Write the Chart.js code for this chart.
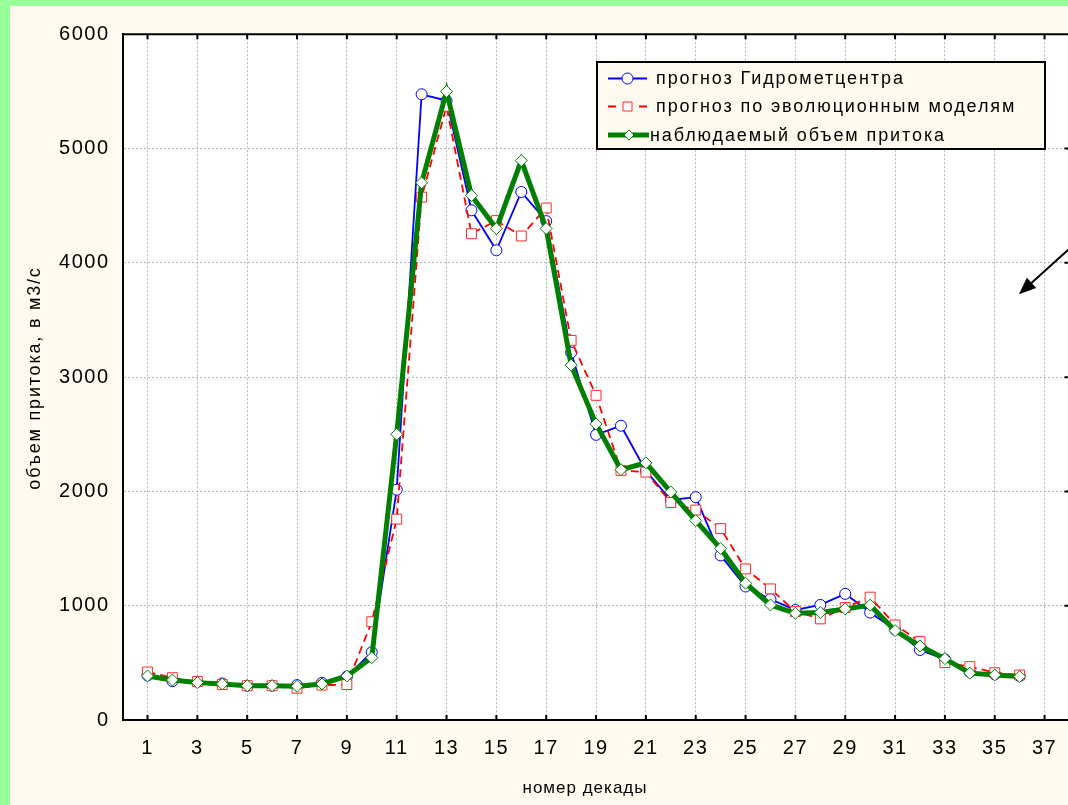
<!DOCTYPE html>
<html>
<head>
<meta charset="utf-8">
<script src="https://cdn.jsdelivr.net/npm/chart.js@4.4.0/dist/chart.umd.min.js"></script>
<style>
    html, body { margin: 0; padding: 0; overflow: hidden; background: #99ff99; }
    #wrap { position: absolute; left: 10px; top: 6px; width: 1070px; height: 799px; background: #fffaf0; }
</style>
</head>
<body>
<div id="wrap"><canvas id="inflow-canvas" width="1070" height="799"></canvas></div>
<script>
// data
const decades = [1, 2, 3, 4, 5, 6, 7, 8, 9, 10, 11, 12, 13, 14, 15, 16, 17, 18,
    19, 20, 21, 22, 23, 24, 25, 26, 27, 28, 29, 30, 31, 32, 33, 34, 35, 36];
const forecast_hydromet = [390, 340, 335, 320, 300, 300, 305, 325, 380, 593, 2015, 5475, 5420, 4460, 4110, 4620, 4365, 3215,
    2495, 2575, 2180, 1925, 1950, 1440, 1168, 1057, 963, 1007, 1104, 940, 790, 613, 530, 420, 400, 385];
const forecast_evolution = [420, 370, 336, 310, 300, 300, 278, 305, 310, 860, 1758, 4575, 5370, 4255, 4370, 4235, 4480, 3322,
    2841, 2184, 2169, 1903, 1837, 1675, 1322, 1147, 949, 885, 984, 1075, 832, 686, 502, 467, 414, 394];
const observed_inflow = [385, 350, 327, 315, 300, 300, 295, 315, 385, 545, 2500, 4700, 5500, 4590, 4300, 4895, 4300, 3105,
    2590, 2190, 2250, 1995, 1745, 1500, 1197, 1007, 934, 940, 972, 1005, 782, 648, 537, 410, 394, 380];
const series_labels = ['прогноз Гидрометцентра', 'прогноз по эволюционным моделям', 'наблюдаемый объем притока'];
const x_title = 'номер декады';
const y_title = 'объем притока, в м3/с';

const font_family = '"Liberation Sans", Arial, sans-serif';

function toPoints(values) {
    return decades.map((d, i) => ({ x: d, y: values[i] }));
}

// white plot area + spaced text like the original
const backgroundPlugin = {
    id: 'backgroundPlugin',
    beforeDraw: (chart) => {
        const { ctx, chartArea } = chart;
        ctx.letterSpacing = '1.5px';
        ctx.save();
        ctx.fillStyle = '#ffffff';
        ctx.fillRect(chartArea.left, chartArea.top, chartArea.right - chartArea.left, chartArea.bottom - chartArea.top);
        ctx.restore();
    }
};

// axis titles (the x one is not centred on the plot in the original)
const titlesPlugin = {
    id: 'titlesPlugin',
    afterDraw: (chart) => {
        const ctx = chart.ctx;
        ctx.save();
        ctx.fillStyle = '#000';
        ctx.textAlign = 'center';
        ctx.textBaseline = 'middle';
        ctx.font = '17px ' + font_family;
        ctx.letterSpacing = '1px';
        ctx.fillText(x_title, 575, 782);
        ctx.font = '18px ' + font_family;
        ctx.letterSpacing = '1.8px';
        ctx.translate(25, 372);
        ctx.rotate(-Math.PI / 2);
        ctx.fillText(y_title, 0, 0);
        ctx.restore();
    }
};

// top/right frame and inward tick marks
const framePlugin = {
    id: 'framePlugin',
    afterDraw: (chart) => {
        const { ctx, chartArea } = chart;
        const xs = chart.scales.x;
        const ys = chart.scales.y;
        ctx.save();
        ctx.strokeStyle = '#000';
        ctx.lineWidth = 2;
        ctx.beginPath();
        ctx.moveTo(chartArea.left, chartArea.top);
        ctx.lineTo(chartArea.right, chartArea.top);
        ctx.lineTo(chartArea.right, chartArea.bottom);
        for (let v = 1; v < 38; v += 2) {
            const px = xs.getPixelForValue(v);
            ctx.moveTo(px, chartArea.bottom);
            ctx.lineTo(px, chartArea.bottom - 5);
            ctx.moveTo(px, chartArea.top);
            ctx.lineTo(px, chartArea.top + 5);
        }
        for (let v = 1000; v < 6000; v += 1000) {
            const py = ys.getPixelForValue(v);
            ctx.moveTo(chartArea.right, py);
            ctx.lineTo(chartArea.right - 5, py);
        }
        ctx.stroke();

        // arrow pointing in from the right edge
        const tipX = xs.getPixelForValue(35.97);
        const tipY = ys.getPixelForValue(3725);
        const dx = 0.742, dy = -0.671;
        ctx.lineWidth = 2;
        ctx.beginPath();
        ctx.moveTo(tipX + 12 * dx, tipY + 12 * dy);
        ctx.lineTo(tipX + 90 * dx, tipY + 90 * dy);
        ctx.stroke();
        const bx = tipX + 17 * dx, by = tipY + 17 * dy;
        ctx.fillStyle = '#000';
        ctx.beginPath();
        ctx.moveTo(tipX, tipY);
        ctx.lineTo(bx + 7 * -dy, by + 7 * dx);
        ctx.lineTo(bx - 7 * -dy, by - 7 * dx);
        ctx.closePath();
        ctx.fill();
        ctx.restore();
    }
};

// legend box drawn inside the plot
const legendPlugin = {
    id: 'legendPlugin',
    afterDraw: (chart) => {
        const ctx = chart.ctx;
        const box = { left: 587, top: 56, right: 1035, bottom: 143 };
        const rows = [72.5, 100.5, 129];
        const textX = [646, 646, 640];
        ctx.save();
        ctx.fillStyle = '#fffaf0';
        ctx.fillRect(box.left, box.top, box.right - box.left, box.bottom - box.top);
        ctx.strokeStyle = '#000';
        ctx.lineWidth = 2;
        ctx.strokeRect(box.left, box.top, box.right - box.left, box.bottom - box.top);

        chart.data.datasets.forEach((ds, i) => {
            const y = rows[i];
            ctx.strokeStyle = ds.borderColor;
            ctx.lineWidth = ds.borderWidth;
            ctx.beginPath();
            if (i === 1) {
                ctx.moveTo(598, y); ctx.lineTo(606, y);
                ctx.moveTo(629, y); ctx.lineTo(637, y);
            } else {
                ctx.moveTo(598, y); ctx.lineTo(i === 2 ? 639 : 637, y);
            }
            ctx.stroke();
            const mx = i === 2 ? 619 : 617.5;
            ctx.fillStyle = ds.pointBackgroundColor;
            ctx.strokeStyle = ds.pointBorderColor;
            ctx.lineWidth = 1;
            ctx.beginPath();
            if (ds.pointStyle === 'circle') {
                ctx.arc(mx, y, ds.pointRadius, 0, Math.PI * 2);
            } else if (ds.pointStyle === 'rect') {
                ctx.rect(mx - 4.5, y - 4.5, 9, 9);
            } else {
                ctx.moveTo(mx - 5, y); ctx.lineTo(mx, y - 5);
                ctx.lineTo(mx + 5, y); ctx.lineTo(mx, y + 5);
                ctx.closePath();
            }
            ctx.fill();
            ctx.stroke();

            ctx.letterSpacing = '1.9px';
            ctx.fillStyle = '#000';
            ctx.font = '18px ' + font_family;
            ctx.textBaseline = 'middle';
            ctx.textAlign = 'left';
            ctx.fillText(series_labels[i], textX[i], y + 1);
        });
        ctx.restore();
    }
};

const ctx = document.getElementById('inflow-canvas').getContext('2d');

const inflow_chart = new Chart(ctx, {
    type: 'line',
    data: {
        datasets: [
            {
                label: series_labels[0],
                data: toPoints(forecast_hydromet),
                borderColor: '#0000ff',
                borderWidth: 1.8,
                pointStyle: 'circle',
                pointRadius: 5.5,
                pointBorderWidth: 1,
                pointBorderColor: '#0000ff',
                pointBackgroundColor: '#ffffff',
                tension: 0,
                order: 3
            }, {
                label: series_labels[1],
                data: toPoints(forecast_evolution),
                borderColor: '#ff0000',
                borderWidth: 1.8,
                borderDash: [8, 5],
                pointStyle: 'rect',
                pointRadius: 7,
                pointBorderWidth: 1,
                pointBorderColor: '#ff2a2a',
                pointBackgroundColor: '#ffffff',
                tension: 0,
                order: 2
            }, {
                label: series_labels[2],
                data: toPoints(observed_inflow),
                borderColor: '#008000',
                borderWidth: 5,
                pointStyle: 'rectRot',
                pointRadius: 6,
                pointBorderWidth: 1,
                pointBorderColor: '#008000',
                pointBackgroundColor: '#ffffff',
                tension: 0,
                order: 1
            }
        ]
    },
    options: {
        responsive: false,
        animation: false,
        devicePixelRatio: 1,
        layout: { padding: { top: 28.3, right: 10.5, left: 0, bottom: 0 } },
        plugins: {
            legend: { display: false },
            tooltip: { enabled: false }
        },
        scales: {
            x: {
                type: 'linear',
                min: 0,
                max: 38,
                afterFit: (scale) => {
                    scale.height = 85;
                    scale.paddingLeft = 0;
                    scale.paddingRight = 0;
                },
                ticks: {
                    stepSize: 1,
                    autoSkip: false,
                    maxRotation: 0,
                    padding: 16.5,
                    color: '#000',
                    font: { family: font_family, size: 20 },
                    callback: (v) => (v % 2 === 1 ? String(v) : '')
                },
                grid: {
                    drawTicks: false,
                    lineWidth: 1,
                    color: (c) => (c.tick && c.tick.value % 2 === 1 ? '#b4b4b4' : 'rgba(0,0,0,0)')
                },
                border: { display: true, color: '#000', width: 2, dash: [2, 2] }
            },
            y: {
                min: 0,
                max: 6000,
                afterFit: (scale) => {
                    scale.width = 112.6;
                    scale.paddingTop = 0;
                    scale.paddingBottom = 0;
                },
                ticks: {
                    stepSize: 1000,
                    padding: 13,
                    color: '#000',
                    font: { family: font_family, size: 20 },
                    callback: (v) => String(v)
                },
                grid: {
                    drawTicks: false,
                    lineWidth: 1,
                    color: (c) => (c.tick && c.tick.value > 0 && c.tick.value < 6000 ? '#b4b4b4' : 'rgba(0,0,0,0)')
                },
                border: { display: true, color: '#000', width: 2, dash: [2, 2] }
            }
        }
    },
    plugins: [backgroundPlugin, framePlugin, legendPlugin, titlesPlugin]
});
</script>
</body>
</html>
